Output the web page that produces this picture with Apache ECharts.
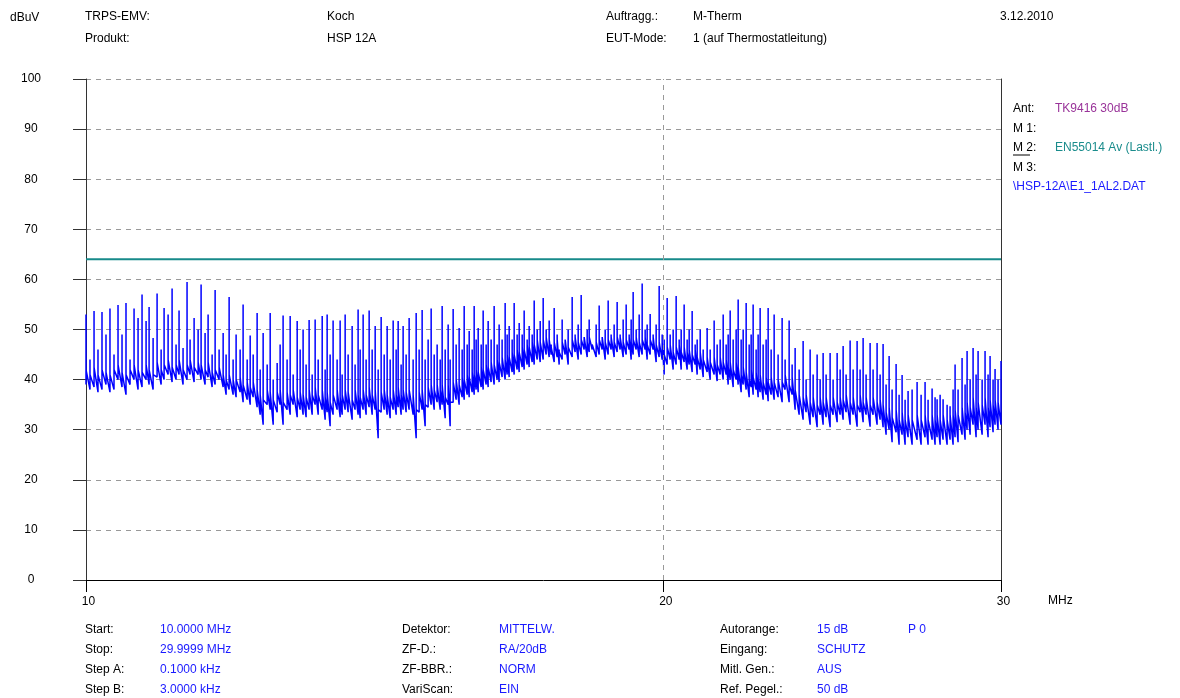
<!DOCTYPE html>
<html><head><meta charset="utf-8">
<script src="https://cdn.jsdelivr.net/npm/echarts@6/dist/echarts.min.js"></script>
<style>html,body{margin:0;padding:0;background:#fff}#c{width:1180px;height:698px}</style>
</head><body><div id="c"></div>
<script>
// ---- data ----
const freqMHz = [
10.000,10.048,10.097,10.145,10.194,10.243,10.292,10.342,10.392,10.442,
10.492,10.543,10.594,10.645,10.696,10.748,10.787,10.839,10.891,10.944,
10.983,11.036,11.089,11.142,11.182,11.236,11.290,11.331,11.386,11.441,
11.482,11.537,11.579,11.635,11.677,11.733,11.790,11.832,11.875,11.932,
11.975,12.033,12.076,12.135,12.179,12.223,12.281,12.326,12.370,12.430,
12.475,12.520,12.580,12.625,12.670,12.731,12.778,12.824,12.886,12.932,
12.978,13.025,13.072,13.120,13.167,
13.215,13.279,13.326,13.358,13.406,13.454,13.519,13.568,13.601,13.650,
13.699,13.765,13.814,13.864,13.898,13.948,13.998,14.049,14.100,14.151,
14.202,14.253,14.305,14.356,14.408,14.460,14.512,14.547,14.599,14.634,
14.687,14.740,14.811,14.865,14.918,14.972,15.026,15.080,15.135,15.190,
15.244,15.300,15.336,15.392,15.447,15.484,15.540,15.596,15.652,15.709,
15.747,15.804,15.842,15.899,15.937,15.975,16.014,16.072,16.110,16.168,
16.207,16.265,16.324,16.383,16.422,16.481,16.541,16.581,16.621,16.681,
16.721,16.781,16.822,16.883,16.923,16.984,17.025,17.087,17.128,17.190,
17.252,17.314,17.376,17.439,
17.481,17.544,17.607,17.649,17.713,17.777,17.841,17.927,17.991,18.057,
18.122,18.187,18.253,18.297,18.363,18.451,18.518,18.585,18.652,18.719,
18.786,18.854,18.922,18.990,19.059,19.128,19.197,19.243,19.289,19.359,
19.429,19.499,19.569,19.616,19.687,19.758,19.829,19.901,19.973,20.021,
20.093,20.166,20.238,20.311,20.385,20.434,20.507,20.581,20.631,20.705,
20.780,20.830,20.906,20.981,21.081,21.158,21.259,21.336,21.413,21.491,
21.568,21.620,21.672,21.750,21.828,21.881,21.960,22.013,22.092,22.172,
22.225,22.278,22.358,22.412,22.466,22.547,22.628,22.683,22.765,22.847,
22.956,23.067,23.150,23.262,23.346,23.430,23.543,23.656,23.741,23.856,
23.942,24.057,24.144,24.231,24.318,24.435,24.523,24.642,24.731,24.820,
24.909,25.029,25.120,25.240,25.331,25.423,25.514,25.637,25.729,25.853,
25.947,26.040,26.134,26.229,26.323,26.450,26.545,26.641,26.737,26.833,
26.963,27.125,27.256,27.386,27.485,27.618,27.717,27.784,27.885,27.985,
28.120,28.221,28.323,28.391,28.493,28.630,28.734,28.803,28.908,29.011,
29.116,29.186,29.328,29.431,29.538,29.609,29.716,29.787,29.894,30.000
];
// level just before each spike (bottom of the noise band)
const traceLow = [
39,38,38.5,37.5,38,39,37.5,38,40,38.5,
37,39,40,38,38.5,40,39,38,40.5,39,
40,41,39.5,40,41,39,40,41,39.5,41,
40,39,40.5,38.5,39,40,38.5,37,38,37,
36.5,37.5,35.5,36,35,36.5,34.5,33,31,35,
34,31,33.5,35,31,34,33,35,32.5,34,
33,32.5,34,33,35,
33,34,32,33.5,30.7,33,34,32.5,33,34,
33.5,32,34,33,32.3,34,33,34.5,33,34,
28.3,33.5,34,33,32.3,34,33,34.5,33,34,
33.5,34,33,28.3,33.5,34,30.7,34.5,35,34,
35.5,34,35,32.3,35,30.7,35.5,36,35,36.5,
36,37,36.5,37.5,37,38,37.5,38.5,38,39,
38.5,39.5,39,40,39.5,40.5,40,41,40.5,41.5,
41,42,41.5,42.5,42,43,42.5,43.5,43,44,
43.5,44,45,44.5,
45,43.5,44.5,43,44,45,43,44.5,45.5,44,
45,46,44.5,45.5,46,44.5,45,46,44,45,
46,44.5,45.5,46,44.5,45,46,44,45,46,
44.5,45,46,44,45,46,43.5,44.5,44,41,
43,44,42,43,44,42,43.5,42,43,41.5,
43,41,42,40.5,41.5,40,41,39.7,41,40,
41,39,40,38.5,40,39,37.5,39,38,36.5,
38.5,37,38,36.5,37.5,36,37,35.7,37,36,
36.5,35.5,38,35.5,37,34,33,32,33.5,31,
32.5,30.5,33,31,32.5,30.5,33,31.5,33,32,
33.5,31,33,30.6,33.5,31.5,33,30.6,33,31,
32,30.5,29,30,27.5,29.5,27,29,27,28.5,
27,28,27,28.5,27,28,27,28.5,27,28,
27,28,27,28.5,27.5,29,28,30,29,31,
28.5,30,29,31,28.5,30.5,29.5,31,30,31
];
// spike tops
const tracePeak = [
53,44,53.7,46,53.5,49,54.2,45,54.9,49,
55.3,44,54.2,52.3,57,51.7,54.5,48.3,57.2,46,
54.3,53,58.2,47,53.8,46.3,59.5,48,52.3,50,
59,49.3,53,45,57.9,46,49.3,45,56.5,44,
49,46,55,44,48.8,45,53.3,42,49.3,43,
53.3,40,43.3,47,52.8,44,52.7,41,51.7,46,
50,43,51.9,41,52,
44,52.7,42,53,45,51.8,44,51.8,41,53,
45,50.7,43,54,46,53,44,53.8,46,50.7,
42,52.5,45,50.7,44,51.8,46,51.7,43,50.7,
45,52.3,44,53.3,46,53.9,44,48,54.2,45,
47,44,54.7,46,51,44,54.1,47,50.3,46,
54.7,47,49.7,46,54.7,48,50.3,47,53.8,47,
51.7,48,54.7,47,51,48,55.3,49,50.7,48,
55.3,49,51.3,49,53.8,48,50.7,49,55.8,50,
51.7,56.3,50,51.8,
47,54.3,49,46,52,48,50,56.5,49,51,
56.9,48,50,52,47,51,54.8,48,50,55.8,
49,51,55.5,49,52,55,49,52,57.5,50,
53,59.2,50,51,53.1,49,51,58.7,49,48,
56.3,49,50,56.7,48,50,55,48,50,53.7,
47,48,50,46,50.3,46,51.8,47,48,53,
47,49,53.8,48,50,56,48,50,55.3,47,
49,55,46,49,54.3,47,48,54.3,46,53,
45,52.3,44,51.8,43,46.3,42,47.7,40,46,
41,45,40,45.3,41,45.3,40,45.3,42,46.7,
41,47.8,42,47.7,42,48.3,41,47.3,42,47.3,
41,47.1,39,44.7,38,43.1,37,40.9,36,37.7,
38,39.5,37,39.5,36,38.2,36.5,36.1,37,36.1,
35,34.7,38,43,38,44.3,39,45.7,40,46.3,
41,45.7,40,45.7,41,44.7,40,42.1,40,43.7
];
// level the trace falls back to right after each spike (top of the noise band)
const traceRebound = [
42,41,42.5,41,42,41.5,41,42,43,41.5,
41,42,43,42,41.5,43,42,41,43.5,42,
43,44,42.5,43,44,42,43,44,42.5,43.5,
43,42,43.5,41.5,42,42.5,41,40,41,40,
40,40.5,39,39.5,38.5,39.5,38,37,36,38,
37.5,36,37.5,38,35.5,37.5,37,38,36.5,37.5,
37,36.5,38,37,38.5,
37,38,36.5,37.5,35.5,37,38,36.5,37,38,
37.5,36,38,37,36.5,38,37,38.5,37,38,
34,37.5,38,37,36.5,38,37,38.5,37,38,
37.5,38,37,34,37.5,38,35,38.5,39,38,
39,38,39,36.5,39,35.5,39.5,40,39,40.5,
40,41,40.5,41.5,41,42,41.5,42.5,42,43,
42.5,43.5,43,44,43.5,44.5,44,45,44.5,45.5,
45,46,45.5,46.5,46,47,46.5,47.5,47,48,
47.5,48,48.5,48,
46.5,47.5,48,45.5,47.5,48,46.5,48,48.5,47.5,
48,48.5,47.5,48.5,47,47.5,48,48.5,47.5,48,
48.5,47.5,48.5,48.5,47.5,48,48.5,47.5,48,48.5,
47.5,48,48.5,47,48,48.5,47,47.5,47.5,45,
46.5,47,45.5,46.5,47,45.5,46.5,45.5,46,45,
46,44.5,45.5,44,44.5,43.5,44.5,43,44.5,43.5,
44,42.5,43.5,42,43.5,42.5,41,42.5,41.5,40,
42,40.5,41.5,40,41,39.5,40.5,39.5,40.5,39.5,
40,39.5,41,39,40.5,38,37,36.5,37,35.5,
36.5,35,36.5,35.5,36.5,35,36.5,35.5,36.5,36,
37,35.5,36.5,35,37,35.5,36.5,35,36.5,35.5,
36,35,33.5,34.5,32.5,34,32,33.5,32,33,
32,33,32,33,32,33,32,33,32,33,
32,33,33,34,33,34.5,33.5,35.5,34.5,36.5,
34.5,35.5,35,36.5,34.5,36,35,36,35.5,36
];
const limitFreq = [10, 30];
const limitLevel = [64, 64];
const xTickValues = [10, 20, 30];
const gridFreq = [20];
const yRange = [0, 100];
const yStep = 10;

// ---- chart ----
const FONT = "'Liberation Sans', Arial, sans-serif";
const BLUE = '#1a1aff';
const tracePts = [];
freqMHz.forEach((f, i) => {
  tracePts.push([f, traceLow[i]], [f, tracePeak[i]], [f, traceRebound[i]]);
});
const limitPts = limitFreq.map((f, i) => [f, limitLevel[i]]);

function txt(x, y, text, fill) {
  return { type: 'text', x: x, y: y, silent: true,
    style: { text: text, fill: fill || '#000', font: '12px ' + FONT, verticalAlign: 'middle', align: 'left' } };
}
const graphics = [
  txt(10, 18, 'dBuV'),
  txt(85, 17, 'TRPS-EMV:'), txt(85, 39, 'Produkt:'),
  txt(327, 17, 'Koch'), txt(327, 39, 'HSP 12A'),
  txt(606, 17, 'Auftragg.:'), txt(606, 39, 'EUT-Mode:'),
  txt(693, 17, 'M-Therm'), txt(693, 39, '1 (auf Thermostatleitung)'),
  txt(1000, 17, '3.12.2010'),
  txt(1013, 109, 'Ant:'), txt(1055, 109, 'TK9416 30dB', '#993399'),
  txt(1013, 129, 'M 1:'),
  txt(1013, 148, 'M 2:'), txt(1055, 148, 'EN55014 Av (Lastl.)', '#1a8c8c'),
  txt(1013, 168, 'M 3:'),
  txt(1013, 187, '\\HSP-12A\\E1_1AL2.DAT', BLUE),
  { type: 'line', silent: true, shape: { x1: 1013, y1: 155, x2: 1030, y2: 155 }, style: { stroke: '#000', lineWidth: 1 } },
  txt(1048, 601, 'MHz'),
  txt(85, 630, 'Start:'), txt(85, 650, 'Stop:'), txt(85, 670, 'Step A:'), txt(85, 690, 'Step B:'),
  txt(160, 630, '10.0000 MHz', BLUE), txt(160, 650, '29.9999 MHz', BLUE), txt(160, 670, '0.1000 kHz', BLUE), txt(160, 690, '3.0000 kHz', BLUE),
  txt(402, 630, 'Detektor:'), txt(402, 650, 'ZF-D.:'), txt(402, 670, 'ZF-BBR.:'), txt(402, 690, 'VariScan:'),
  txt(499, 630, 'MITTELW.', BLUE), txt(499, 650, 'RA/20dB', BLUE), txt(499, 670, 'NORM', BLUE), txt(499, 690, 'EIN', BLUE),
  txt(720, 630, 'Autorange:'), txt(720, 650, 'Eingang:'), txt(720, 670, 'Mitl. Gen.:'), txt(720, 690, 'Ref. Pegel.:'),
  txt(817, 630, '15 dB', BLUE), txt(817, 650, 'SCHUTZ', BLUE), txt(817, 670, 'AUS', BLUE), txt(817, 690, '50 dB', BLUE),
  txt(908, 630, 'P 0', BLUE)
];

const chart = echarts.init(document.getElementById('c'), null, { renderer: 'canvas' });
chart.setOption({
  animation: false,
  backgroundColor: '#fff',
  grid: { left: 86, right: 179, top: 79, bottom: 118, containLabel: false, outerBoundsMode: 'none' },
  xAxis: {
    type: 'log', logBase: 10, min: 10, max: 30,
    axisLine: { show: true, onZero: false, lineStyle: { color: '#000', width: 1 } },
    axisTick: { show: true, inside: false, length: 12, customValues: xTickValues, lineStyle: { color: '#000' } },
    axisLabel: { show: true, customValues: xTickValues, margin: 16, padding: [0, 0, 0, 5], color: '#000', fontFamily: FONT, fontSize: 12 },
    splitLine: { show: false }, minorTick: { show: false }, minorSplitLine: { show: false }
  },
  yAxis: [{
    type: 'value', min: yRange[0], max: yRange[1], interval: yStep,
    axisLine: { show: true, lineStyle: { color: '#333', width: 1 } },
    axisTick: { show: true, inside: false, length: 13, lineStyle: { color: '#333' } },
    axisLabel: { margin: 55, align: 'center', color: '#000', fontFamily: FONT, fontSize: 12 },
    splitLine: { show: true, lineStyle: { type: [5, 5], color: '#999', width: 1 } }
  }, {
    type: 'value', min: yRange[0], max: yRange[1], interval: yStep, position: 'right',
    axisLine: { show: true, onZero: false, lineStyle: { color: '#333', width: 1 } },
    axisTick: { show: false }, axisLabel: { show: false }, splitLine: { show: false }
  }],
  series: [{
    name: 'limit', type: 'line', data: limitPts, symbol: 'none', z: 2,
    lineStyle: { color: '#178a8a', width: 2 },
    markLine: {
      silent: true, symbol: ['none', 'none'], label: { show: false },
      lineStyle: { type: [5, 5], color: '#999', width: 1 },
      data: gridFreq.map(f => ({ xAxis: f }))
    }
  }, {
    name: 'trace', type: 'line', data: tracePts, symbol: 'none', showSymbol: false, z: 3,
    sampling: null, lineStyle: { color: '#0000ff', width: 1.5 }
  }],
  graphic: graphics
});
</script></body></html>
